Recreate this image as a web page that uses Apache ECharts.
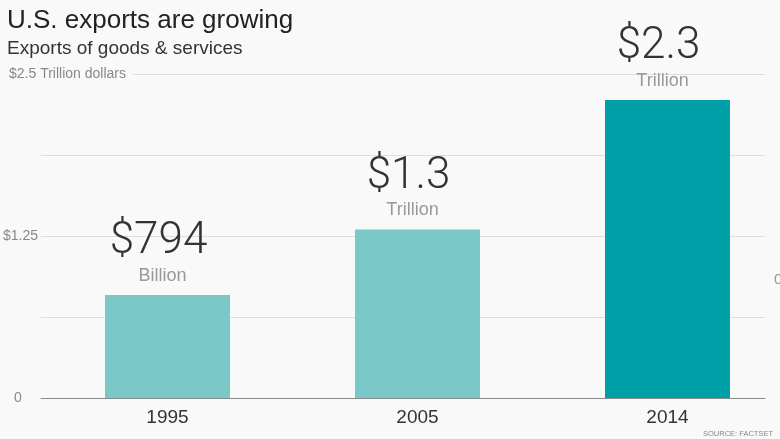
<!DOCTYPE html>
<html>
<head>
<meta charset="utf-8">
<script src="https://cdn.jsdelivr.net/npm/echarts@6/dist/echarts.min.js"></script>
<style>
html,body{margin:0;padding:0;background:#f9f9f9;}
#c{width:780px;height:439px;}
</style>
</head>
<body>
<div id="c"></div>
<script>
var categories = ['1995', '2005', '2014'];
var values = [0.794, 1.3, 2.3];           // trillion dollars
var bigLabels = ['$794', '$1.3', '$2.3'];
var unitLabels = ['Billion', 'Trillion', 'Trillion'];
var barColors = ['#7ac8c7', '#7ac8c7', '#00a0a8'];
var yLabelValues = [0, 1.25, 2.5];
var yLabelTexts = ['0', '$1.25', '$2.5 Trillion dollars'];

var FONT = "'Liberation Sans', Arial, sans-serif";
var chart = echarts.init(document.getElementById('c'), null, {renderer: 'canvas'});

var catIndex = categories.map(function (c, i) { return i; });

chart.setOption({
  backgroundColor: '#f9f9f9',
  animation: false,
  title: {
    text: 'U.S. exports are growing',
    subtext: 'Exports of goods & services',
    left: 7, top: 8, padding: 0, itemGap: 5,
    textStyle: {fontFamily: FONT, fontSize: 26, fontWeight: 'normal', color: '#222'},
    subtextStyle: {fontFamily: FONT, fontSize: 19, color: '#333'}
  },
  grid: [
    {left: 40, right: 15, top: 74, bottom: 41},
    {left: 40, right: 15, top: 74, bottom: 41}
  ],
  xAxis: [
    {
      type: 'value', gridIndex: 0, min: -0.51, max: 2.39,
      axisLine: {show: false}, axisTick: {show: false}, splitLine: {show: false},
      axisLabel: {
        customValues: catIndex, hideOverlap: false,
        fontFamily: FONT, fontSize: 19, color: '#333', margin: 10,
        formatter: function (v) { return categories[Math.round(v)] || ''; }
      }
    },
    {
      type: 'value', gridIndex: 1, min: 0, max: 1,
      axisLine: {show: true, onZero: false, lineStyle: {color: '#8a8a8a', width: 1}},
      axisTick: {show: false}, axisLabel: {show: false}, splitLine: {show: false}
    }
  ],
  yAxis: [
    {
      type: 'value', gridIndex: 0, min: 0, max: 2.5, interval: 0.625,
      axisLine: {show: false}, axisTick: {show: false}, axisLabel: {show: false}, splitLine: {show: false}
    },
    {
      type: 'value', gridIndex: 1, min: 0, max: 2.5, interval: 0.625,
      axisLine: {show: false}, axisTick: {show: false},
      splitLine: {show: true, lineStyle: {color: '#dedede', width: 1}},
      axisLabel: {
        margin: 38, align: 'left',
        formatter: function (v) {
          for (var i = 0; i < yLabelValues.length; i++) {
            if (Math.abs(yLabelValues[i] - v) < 1e-6) {
              if (i === yLabelValues.length - 1) return '{top|' + yLabelTexts[i] + '}';
              if (i === 0) return '{zero|' + yLabelTexts[i] + '}';
              return '{mid|' + yLabelTexts[i] + '}';
            }
          }
          return '';
        },
        rich: {
          top: {fontFamily: FONT, fontSize: 14, color: '#888', backgroundColor: '#f9f9f9', padding: [2, 7, 2, 6]},
          mid: {fontFamily: FONT, fontSize: 14, color: '#888'},
          zero: {fontFamily: FONT, fontSize: 14, color: '#888', padding: [0, 0, 0, 11]}
        }
      }
    }
  ],
  series: [{
    type: 'bar', xAxisIndex: 0, yAxisIndex: 0,
    barWidth: 125,
    data: values.map(function (v, i) {
      return {value: [catIndex[i], v], itemStyle: {color: barColors[i]}};
    }),
    label: {
      show: true, position: 'top', distance: 8, offset: [-5, 0],
      formatter: function (p) {
        return '{big|' + bigLabels[p.dataIndex] + '}\n{small|' + unitLabels[p.dataIndex] + '}';
      },
      rich: {
        big: {fontFamily: "Roboto, " + FONT, fontWeight: 300, fontSize: 44, color: '#333', lineHeight: 46, align: 'center', padding: [0, 8, 0, 0]},
        small: {fontFamily: FONT, fontSize: 18, color: '#999', lineHeight: 22, align: 'center'}
      }
    }
  }],
  graphic: [
    {type: 'text', left: 703, top: 430, style: {text: 'SOURCE: FACTSET', fontFamily: FONT, fontSize: 7.5, fill: '#888', letterSpacing: 1}},
    {type: 'text', left: 774, top: 272, style: {text: '0', fontFamily: FONT, fontSize: 15, fill: '#999'}}
  ]
});
</script>
</body>
</html>
